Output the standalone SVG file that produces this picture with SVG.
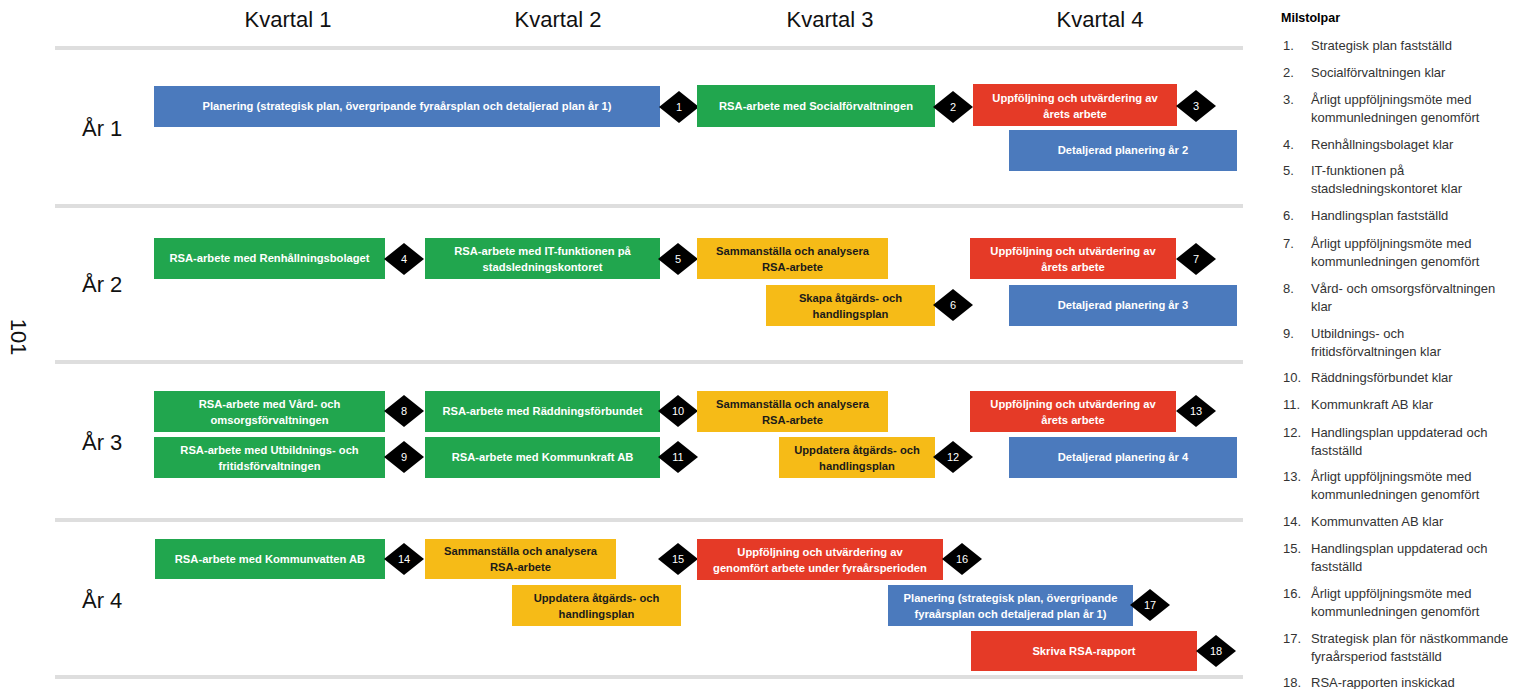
<svg xmlns="http://www.w3.org/2000/svg" xmlns:xlink="http://www.w3.org/1999/xlink" width="1513" height="689" viewBox="0 0 1513 689">
  <style>
    .bg { fill: #ffffff; }
    .sep { stroke: #dedede; stroke-width: 4; }
    .hdr { font-family: "Liberation Sans", Arial, sans-serif; font-size: 22px; fill: #111111; text-anchor: middle; }
    .yr { font-family: "Liberation Sans", Arial, sans-serif; font-size: 22px; fill: #111111; }
    .blue { fill: #4b7abd; }
    .green { fill: #21a64e; }
    .red { fill: #e53a27; }
    .yellow { fill: #f6bb17; }
    .lbl { font-family: "Liberation Sans", Arial, sans-serif; font-size: 11.2px; font-weight: bold; fill: #ffffff; text-anchor: middle; }
    .dark { fill: #1a1a1a; }
    .dia { fill: #000000; }
    .num { font-family: "Liberation Sans", Arial, sans-serif; font-size: 11px; fill: #ffffff; text-anchor: middle; }
    .lg { font-family: "Liberation Sans", Arial, sans-serif; font-size: 13px; fill: #333333; }
    .lgh { font-family: "Liberation Sans", Arial, sans-serif; font-size: 12.5px; font-weight: bold; fill: #000000; }
    .side { font-family: "Liberation Sans", Arial, sans-serif; font-size: 22px; fill: #111111; text-anchor: middle; }
  </style>
  <defs>
    <path id="dia" d="M0,-16 L20,0 L0,16 L-20,0 Z"/>
  </defs>

  <rect class="bg" x="0" y="0" width="1513" height="689"/>

  <!-- year separators -->
  <g id="grid">
    <line class="sep" x1="55" y1="48" x2="1243" y2="48"/>
    <line class="sep" x1="55" y1="206" x2="1243" y2="206"/>
    <line class="sep" x1="55" y1="362" x2="1243" y2="362"/>
    <line class="sep" x1="55" y1="520" x2="1243" y2="520"/>
    <line class="sep" x1="55" y1="677" x2="1243" y2="677"/>
  </g>

  <!-- quarter headers -->
  <g id="headers">
    <text class="hdr" x="288" y="27">Kvartal 1</text>
    <text class="hdr" x="558" y="27">Kvartal 2</text>
    <text class="hdr" x="830" y="27">Kvartal 3</text>
    <text class="hdr" x="1100" y="27">Kvartal 4</text>
  </g>

  <!-- year labels -->
  <g id="years">
    <text class="yr" x="82" y="136">År 1</text>
    <text class="yr" x="82" y="292">År 2</text>
    <text class="yr" x="82" y="450">År 3</text>
    <text class="yr" x="82" y="608">År 4</text>
  </g>

  <text class="side" x="0" y="0" transform="translate(11,337) rotate(90)">101</text>

  <!-- Year 1 -->
  <g id="y1-planering">
    <rect class="blue" x="154" y="86" width="506" height="41"/>
    <text class="lbl" x="407" y="110">Planering (strategisk plan, övergripande fyraårsplan och detaljerad plan år 1)</text>
  </g>
  <g id="m1"><use xlink:href="#dia" class="dia" x="679" y="107"/><text class="num" x="679" y="111">1</text></g>
  <g id="y1-social">
    <rect class="green" x="697" y="85" width="238" height="42"/>
    <text class="lbl" x="816" y="110">RSA-arbete med Socialförvaltningen</text>
  </g>
  <g id="m2"><use xlink:href="#dia" class="dia" x="953" y="107"/><text class="num" x="953" y="111">2</text></g>
  <g id="y1-uppfoljning">
    <rect class="red" x="973" y="84" width="204" height="42"/>
    <text class="lbl" x="1075" y="101.5">Uppföljning och utvärdering av</text>
    <text class="lbl" x="1075" y="117.5">årets arbete</text>
  </g>
  <g id="m3"><use xlink:href="#dia" class="dia" x="1196" y="106"/><text class="num" x="1196" y="110">3</text></g>
  <g id="y1-detaljerad">
    <rect class="blue" x="1009" y="130" width="228" height="41"/>
    <text class="lbl" x="1123" y="154">Detaljerad planering år 2</text>
  </g>

  <!-- Year 2 -->
  <g id="y2-renhallning">
    <rect class="green" x="154" y="238" width="231" height="41"/>
    <text class="lbl" x="269.5" y="262">RSA-arbete med Renhållningsbolaget</text>
  </g>
  <g id="m4"><use xlink:href="#dia" class="dia" x="404" y="259"/><text class="num" x="404" y="263">4</text></g>
  <g id="y2-it">
    <rect class="green" x="425" y="238" width="235" height="41"/>
    <text class="lbl" x="542.5" y="254.5">RSA-arbete med IT-funktionen på</text>
    <text class="lbl" x="542.5" y="270.5">stadsledningskontoret</text>
  </g>
  <g id="m5"><use xlink:href="#dia" class="dia" x="678" y="259"/><text class="num" x="678" y="263">5</text></g>
  <g id="y2-sammanstalla">
    <rect class="yellow" x="697" y="238" width="191" height="41"/>
    <text class="lbl dark" x="792.5" y="254.5">Sammanställa och analysera</text>
    <text class="lbl dark" x="792.5" y="270.5">RSA-arbete</text>
  </g>
  <g id="y2-skapa">
    <rect class="yellow" x="766" y="285" width="169" height="41"/>
    <text class="lbl dark" x="850.5" y="301.5">Skapa åtgärds- och</text>
    <text class="lbl dark" x="850.5" y="317.5">handlingsplan</text>
  </g>
  <g id="m6"><use xlink:href="#dia" class="dia" x="953" y="305"/><text class="num" x="953" y="309">6</text></g>
  <g id="y2-uppfoljning">
    <rect class="red" x="970" y="238" width="206" height="41"/>
    <text class="lbl" x="1073" y="254.5">Uppföljning och utvärdering av</text>
    <text class="lbl" x="1073" y="270.5">årets arbete</text>
  </g>
  <g id="m7"><use xlink:href="#dia" class="dia" x="1196" y="259"/><text class="num" x="1196" y="263">7</text></g>
  <g id="y2-detaljerad">
    <rect class="blue" x="1009" y="285" width="228" height="41"/>
    <text class="lbl" x="1123" y="309">Detaljerad planering år 3</text>
  </g>

  <!-- Year 3 -->
  <g id="y3-vard">
    <rect class="green" x="154" y="391" width="231" height="41"/>
    <text class="lbl" x="269.5" y="407.5">RSA-arbete med Vård- och</text>
    <text class="lbl" x="269.5" y="423.5">omsorgsförvaltningen</text>
  </g>
  <g id="m8"><use xlink:href="#dia" class="dia" x="404" y="411"/><text class="num" x="404" y="415">8</text></g>
  <g id="y3-utbildning">
    <rect class="green" x="154" y="437" width="231" height="41"/>
    <text class="lbl" x="269.5" y="453.5">RSA-arbete med Utbildnings- och</text>
    <text class="lbl" x="269.5" y="469.5">fritidsförvaltningen</text>
  </g>
  <g id="m9"><use xlink:href="#dia" class="dia" x="404" y="457"/><text class="num" x="404" y="461">9</text></g>
  <g id="y3-raddning">
    <rect class="green" x="425" y="391" width="235" height="41"/>
    <text class="lbl" x="542.5" y="415">RSA-arbete med Räddningsförbundet</text>
  </g>
  <g id="m10"><use xlink:href="#dia" class="dia" x="678" y="411"/><text class="num" x="678" y="415">10</text></g>
  <g id="y3-kommunkraft">
    <rect class="green" x="425" y="437" width="235" height="41"/>
    <text class="lbl" x="542.5" y="461">RSA-arbete med Kommunkraft AB</text>
  </g>
  <g id="m11"><use xlink:href="#dia" class="dia" x="678" y="457"/><text class="num" x="678" y="461">11</text></g>
  <g id="y3-sammanstalla">
    <rect class="yellow" x="697" y="391" width="191" height="41"/>
    <text class="lbl dark" x="792.5" y="407.5">Sammanställa och analysera</text>
    <text class="lbl dark" x="792.5" y="423.5">RSA-arbete</text>
  </g>
  <g id="y3-uppdatera">
    <rect class="yellow" x="779" y="437" width="156" height="41"/>
    <text class="lbl dark" x="857" y="453.5">Uppdatera åtgärds- och</text>
    <text class="lbl dark" x="857" y="469.5">handlingsplan</text>
  </g>
  <g id="m12"><use xlink:href="#dia" class="dia" x="953" y="457"/><text class="num" x="953" y="461">12</text></g>
  <g id="y3-uppfoljning">
    <rect class="red" x="970" y="391" width="206" height="41"/>
    <text class="lbl" x="1073" y="407.5">Uppföljning och utvärdering av</text>
    <text class="lbl" x="1073" y="423.5">årets arbete</text>
  </g>
  <g id="m13"><use xlink:href="#dia" class="dia" x="1196" y="411"/><text class="num" x="1196" y="415">13</text></g>
  <g id="y3-detaljerad">
    <rect class="blue" x="1009" y="437" width="228" height="41"/>
    <text class="lbl" x="1123" y="461">Detaljerad planering år 4</text>
  </g>

  <!-- Year 4 -->
  <g id="y4-kommunvatten">
    <rect class="green" x="155" y="539" width="230" height="40"/>
    <text class="lbl" x="270" y="562.5">RSA-arbete med Kommunvatten AB</text>
  </g>
  <g id="m14"><use xlink:href="#dia" class="dia" x="404" y="559"/><text class="num" x="404" y="563">14</text></g>
  <g id="y4-sammanstalla">
    <rect class="yellow" x="425" y="539" width="191" height="40"/>
    <text class="lbl dark" x="520.5" y="555">Sammanställa och analysera</text>
    <text class="lbl dark" x="520.5" y="571">RSA-arbete</text>
  </g>
  <g id="y4-uppdatera">
    <rect class="yellow" x="512" y="585" width="169" height="41"/>
    <text class="lbl dark" x="596.5" y="601.5">Uppdatera åtgärds- och</text>
    <text class="lbl dark" x="596.5" y="617.5">handlingsplan</text>
  </g>
  <g id="m15"><use xlink:href="#dia" class="dia" x="678" y="559"/><text class="num" x="678" y="563">15</text></g>
  <g id="y4-uppfoljning">
    <rect class="red" x="697" y="539" width="246" height="41"/>
    <text class="lbl" x="820" y="555.5">Uppföljning och utvärdering av</text>
    <text class="lbl" x="820" y="571.5">genomfört arbete under fyraårsperioden</text>
  </g>
  <g id="m16"><use xlink:href="#dia" class="dia" x="962" y="559"/><text class="num" x="962" y="563">16</text></g>
  <g id="y4-planering">
    <rect class="blue" x="888" y="585" width="245" height="41"/>
    <text class="lbl" x="1010.5" y="601.5">Planering (strategisk plan, övergripande</text>
    <text class="lbl" x="1010.5" y="617.5">fyraårsplan och detaljerad plan år 1)</text>
  </g>
  <g id="m17"><use xlink:href="#dia" class="dia" x="1150" y="605"/><text class="num" x="1150" y="609">17</text></g>
  <g id="y4-rapport">
    <rect class="red" x="971" y="631" width="226" height="40"/>
    <text class="lbl" x="1084" y="654.5">Skriva RSA-rapport</text>
  </g>
  <g id="m18"><use xlink:href="#dia" class="dia" x="1216" y="651"/><text class="num" x="1216" y="655">18</text></g>

  <!-- milestone legend -->
  <g id="legend">
    <text class="lgh" x="1281" y="22">Milstolpar</text>
    <text class="lg" x="1283" y="50">1.</text><text class="lg" x="1311" y="50">Strategisk plan fastställd</text>
    <text class="lg" x="1283" y="77">2.</text><text class="lg" x="1311" y="77">Socialförvaltningen klar</text>
    <text class="lg" x="1283" y="104">3.</text><text class="lg" x="1311" y="104">Årligt uppföljningsmöte med</text>
    <text class="lg" x="1311" y="122">kommunledningen genomfört</text>
    <text class="lg" x="1283" y="149">4.</text><text class="lg" x="1311" y="149">Renhållningsbolaget klar</text>
    <text class="lg" x="1283" y="175">5.</text><text class="lg" x="1311" y="175">IT-funktionen på</text>
    <text class="lg" x="1311" y="193">stadsledningskontoret klar</text>
    <text class="lg" x="1283" y="220">6.</text><text class="lg" x="1311" y="220">Handlingsplan fastställd</text>
    <text class="lg" x="1283" y="248">7.</text><text class="lg" x="1311" y="248">Årligt uppföljningsmöte med</text>
    <text class="lg" x="1311" y="266">kommunledningen genomfört</text>
    <text class="lg" x="1283" y="293">8.</text><text class="lg" x="1311" y="293">Vård- och omsorgsförvaltningen</text>
    <text class="lg" x="1311" y="311">klar</text>
    <text class="lg" x="1283" y="338">9.</text><text class="lg" x="1311" y="338">Utbildnings- och</text>
    <text class="lg" x="1311" y="356">fritidsförvaltningen klar</text>
    <text class="lg" x="1283" y="382">10.</text><text class="lg" x="1311" y="382">Räddningsförbundet klar</text>
    <text class="lg" x="1283" y="409">11.</text><text class="lg" x="1311" y="409">Kommunkraft AB klar</text>
    <text class="lg" x="1283" y="437">12.</text><text class="lg" x="1311" y="437">Handlingsplan uppdaterad och</text>
    <text class="lg" x="1311" y="455">fastställd</text>
    <text class="lg" x="1283" y="481">13.</text><text class="lg" x="1311" y="481">Årligt uppföljningsmöte med</text>
    <text class="lg" x="1311" y="499">kommunledningen genomfört</text>
    <text class="lg" x="1283" y="526">14.</text><text class="lg" x="1311" y="526">Kommunvatten AB klar</text>
    <text class="lg" x="1283" y="553">15.</text><text class="lg" x="1311" y="553">Handlingsplan uppdaterad och</text>
    <text class="lg" x="1311" y="571">fastställd</text>
    <text class="lg" x="1283" y="598">16.</text><text class="lg" x="1311" y="598">Årligt uppföljningsmöte med</text>
    <text class="lg" x="1311" y="616">kommunledningen genomfört</text>
    <text class="lg" x="1283" y="643">17.</text><text class="lg" x="1311" y="643">Strategisk plan för nästkommande</text>
    <text class="lg" x="1311" y="661">fyraårsperiod fastställd</text>
    <text class="lg" x="1283" y="687">18.</text><text class="lg" x="1311" y="687">RSA-rapporten inskickad</text>
  </g>
</svg>
